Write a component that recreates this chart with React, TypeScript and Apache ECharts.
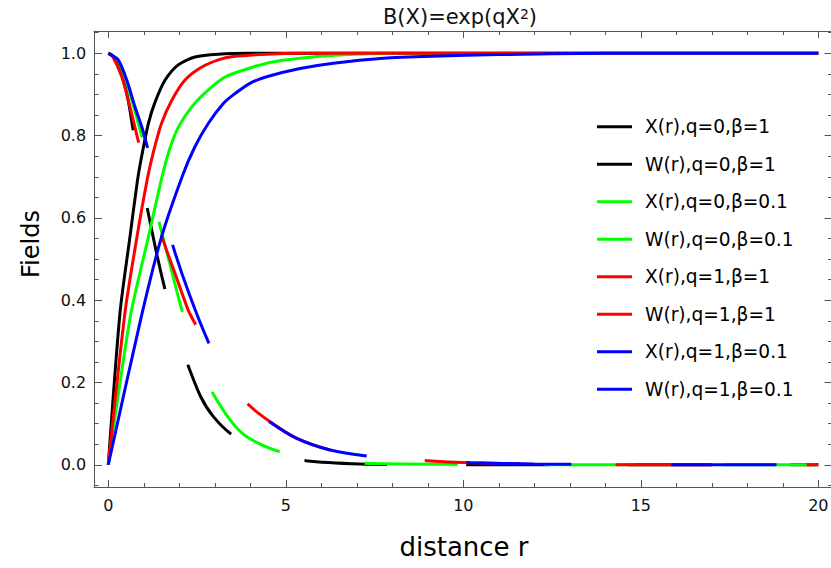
import React, { useEffect, useRef } from 'react';
import * as echarts from 'echarts';

const FONT = "'DejaVu Sans', sans-serif";

// X(r) curves (solid) and W(r) curves (dashed)
const rBlackX = [0, 0.33, 0.61, 0.82, 0.94, 1.13, 1.32, 1.6, 1.97, 2.44, 3.1, 4, 5, 20];
const vBlackX = [0, 0.37, 0.554, 0.69, 0.75, 0.83, 0.882, 0.935, 0.972, 0.991, 0.998, 1, 1, 1];

const rBlackW = [0, 0.19, 0.38, 0.56, 0.7, 0.9, 1.1, 1.36, 1.6, 1.9, 2.24, 2.6, 2.96, 3.5, 4.5, 5.57, 7.1, 9, 20];
const vBlackW = [1, 0.988, 0.951, 0.886, 0.814, 0.717, 0.623, 0.514, 0.425, 0.328, 0.243, 0.166, 0.117, 0.072, 0.028, 0.01, 0.002, 0, 0];

const rGreenX = [0, 0.62, 1.13, 1.5, 1.72, 1.97, 2.35, 2.8, 3.24, 3.52, 4.46, 5.4, 6.5, 8, 20];
const vGreenX = [0, 0.36, 0.554, 0.695, 0.765, 0.82, 0.87, 0.91, 0.94, 0.951, 0.976, 0.988, 0.996, 1, 1];

const rGreenW = [0, 0.28, 0.52, 0.75, 0.89, 1.0, 1.2, 1.41, 1.73, 2.05, 2.45, 2.88, 3.43, 3.9, 4.68, 5.8, 7.09, 9.6, 12, 20];
const vGreenW = [1, 0.982, 0.928, 0.86, 0.815, 0.782, 0.69, 0.597, 0.49, 0.383, 0.27, 0.184, 0.109, 0.068, 0.036, 0.013, 0.004, 0.001, 0, 0];

const rRedX = [0, 0.47, 0.8, 1.1, 1.27, 1.5, 1.79, 2.16, 2.6, 3.1, 3.52, 4.46, 5.5, 20];
const vRedX = [0, 0.37, 0.55, 0.695, 0.76, 0.83, 0.886, 0.935, 0.965, 0.984, 0.992, 0.998, 1, 1];

const rRedW = [0, 0.1, 0.38, 0.61, 0.85, 1.15, 1.5, 1.9, 2.25, 2.49, 3.2, 3.94, 4.55, 5.31, 6.25, 7.37, 8.97, 10.2, 12, 15, 20];
const vRedW = [1, 0.996, 0.943, 0.87, 0.785, 0.682, 0.558, 0.46, 0.376, 0.336, 0.225, 0.147, 0.105, 0.064, 0.036, 0.021, 0.01, 0.005, 0.002, 0, 0];

const rBlueX = [0, 0.93, 1.5, 2.1, 2.44, 2.82, 3.24, 3.52, 3.99, 4.46, 5.4, 6.34, 7.75, 9.15, 11, 14, 20];
const vBlueX = [0, 0.36, 0.554, 0.705, 0.773, 0.83, 0.878, 0.899, 0.927, 0.943, 0.963, 0.976, 0.988, 0.993, 0.997, 1, 1];

const rBlueW = [0, 0.28, 0.52, 0.75, 0.94, 1.1, 1.45, 1.82, 2.3, 2.85, 3.3, 3.9, 4.55, 5.31, 6.25, 7.42, 8.97, 10.2, 12, 15, 20];
const vBlueW = [1, 0.984, 0.935, 0.87, 0.822, 0.772, 0.65, 0.532, 0.41, 0.292, 0.218, 0.148, 0.104, 0.064, 0.036, 0.02, 0.01, 0.005, 0.002, 0, 0];

const seriesNames = [
  'X(r),q=0,β=1',
  'W(r),q=0,β=1',
  'X(r),q=0,β=0.1',
  'W(r),q=0,β=0.1',
  'X(r),q=1,β=1',
  'W(r),q=1,β=1',
  'X(r),q=1,β=0.1',
  'W(r),q=1,β=0.1',
];

const xMajor = [0, 5, 10, 15, 20];
const xMinor = [1, 2, 3, 4, 6, 7, 8, 9, 11, 12, 13, 14, 16, 17, 18, 19];
const yMajor = [0, 0.2, 0.4, 0.6, 0.8, 1.0];
const yMinor = [-0.05, 0.05, 0.1, 0.15, 0.25, 0.3, 0.35, 0.45, 0.5, 0.55, 0.65, 0.7, 0.75, 0.85, 0.9, 0.95, 1.05];

const X_MIN = -0.4, X_MAX = 20.4, Y_MIN = -0.054, Y_MAX = 1.054;
const FRAME = '#555';

const zip = (r: number[], v: number[]) => r.map((x, i) => [x, v[i]]);

const curves = [
  { r: rBlackX, v: vBlackX, color: '#000000', dash: null },
  { r: rBlackW, v: vBlackW, color: '#000000', dash: [83, 79] },
  { r: rGreenX, v: vGreenX, color: '#00ff00', dash: null },
  { r: rGreenW, v: vGreenW, color: '#00ff00', dash: [93, 86] },
  { r: rRedX, v: vRedX, color: '#ff0000', dash: null },
  { r: rRedW, v: vRedW, color: '#ff0000', dash: [96, 95] },
  { r: rBlueX, v: vBlueX, color: '#0000ff', dash: null },
  { r: rBlueW, v: vBlueW, color: '#0000ff', dash: [105, 100] },
];

function xAxis(position: string, ticks: number[], len: number, line: boolean, labels: boolean) {
  return {
    type: 'value', min: X_MIN, max: X_MAX, position,
    axisLine: { show: line, onZero: false, lineStyle: { color: FRAME, width: 1 } },
    axisTick: { show: true, inside: true, length: len, customValues: ticks, lineStyle: { color: FRAME, width: 1 } },
    axisLabel: labels
      ? { show: true, customValues: ticks, margin: 10, fontFamily: FONT, fontSize: 16, color: '#111', formatter: (v: number) => String(v) }
      : { show: false },
    splitLine: { show: false },
  };
}

function yAxis(position: string, ticks: number[], len: number, line: boolean, labels: boolean) {
  return {
    type: 'value', min: Y_MIN, max: Y_MAX, position,
    axisLine: { show: line, onZero: false, lineStyle: { color: FRAME, width: 1 } },
    axisTick: { show: true, inside: true, length: len, customValues: ticks, lineStyle: { color: FRAME, width: 1 } },
    axisLabel: labels
      ? { show: true, customValues: ticks, margin: 8, fontFamily: FONT, fontSize: 16, color: '#111', formatter: (v: number) => v.toFixed(1) }
      : { show: false },
    splitLine: { show: false },
  };
}

export default function App() {
  const ref = useRef<HTMLDivElement>(null);
  useEffect(() => {
    const chart = echarts.init(ref.current!, null, { renderer: 'svg' });
    const option: any = {
      animation: false,
      backgroundColor: '#ffffff',
      grid: { left: 94.1, top: 31.1, width: 738.4, height: 455.9, containLabel: false, outerBoundsMode: 'none' },
      xAxis: [
        xAxis('bottom', xMajor, 7, true, true),
        xAxis('bottom', xMinor, 4, false, false),
        xAxis('top', xMajor, 7, true, false),
        xAxis('top', xMinor, 4, false, false),
      ],
      yAxis: [
        yAxis('left', yMajor, 8, true, true),
        yAxis('left', yMinor, 4.5, false, false),
        yAxis('right', yMajor, 8, true, false),
        yAxis('right', yMinor, 4.5, false, false),
      ],
      legend: {
        orient: 'vertical', left: 592, top: 112.3, padding: 5,
        icon: 'rect', itemWidth: 35, itemHeight: 3, itemGap: 18.5,
        textStyle: { fontFamily: FONT, fontSize: 18.6, color: '#000', lineHeight: 19, padding: [0, 0, 0, 8] },
        data: seriesNames,
      },
      series: curves.map((c, i) => ({
        name: seriesNames[i],
        type: 'line',
        xAxisIndex: 0,
        yAxisIndex: 0,
        data: zip(c.r, c.v),
        showSymbol: false,
        symbol: 'none',
        smooth: 0.25,
        clip: true,
        color: c.color,
        lineStyle: { color: c.color, width: 3, type: c.dash ? c.dash : 'solid', cap: 'butt' },
      })),
      graphic: [
        {
          type: 'text', x: 460, y: 17,
          style: {
            text: 'B(X)=exp(qX{sup|2})', fontFamily: FONT, fontSize: 21, fill: '#111',
            align: 'center', verticalAlign: 'middle',
            rich: { sup: { fontSize: 14, verticalAlign: 'top', fontFamily: FONT, fill: '#111' } },
          },
        },
        {
          type: 'text', x: 31, y: 244, rotation: Math.PI / 2,
          style: { text: 'Fields', fontFamily: FONT, fontSize: 24, fill: '#000', align: 'center', verticalAlign: 'middle' },
        },
        {
          type: 'text', x: 464, y: 547,
          style: { text: 'distance r', fontFamily: FONT, fontSize: 26, fill: '#000', align: 'center', verticalAlign: 'middle' },
        },
      ],
    };
    chart.setOption(option);
    return () => chart.dispose();
  }, []);
  return <div ref={ref} style={{ position: 'fixed', left: 0, top: 0, width: 831, height: 568 }} />;
}
